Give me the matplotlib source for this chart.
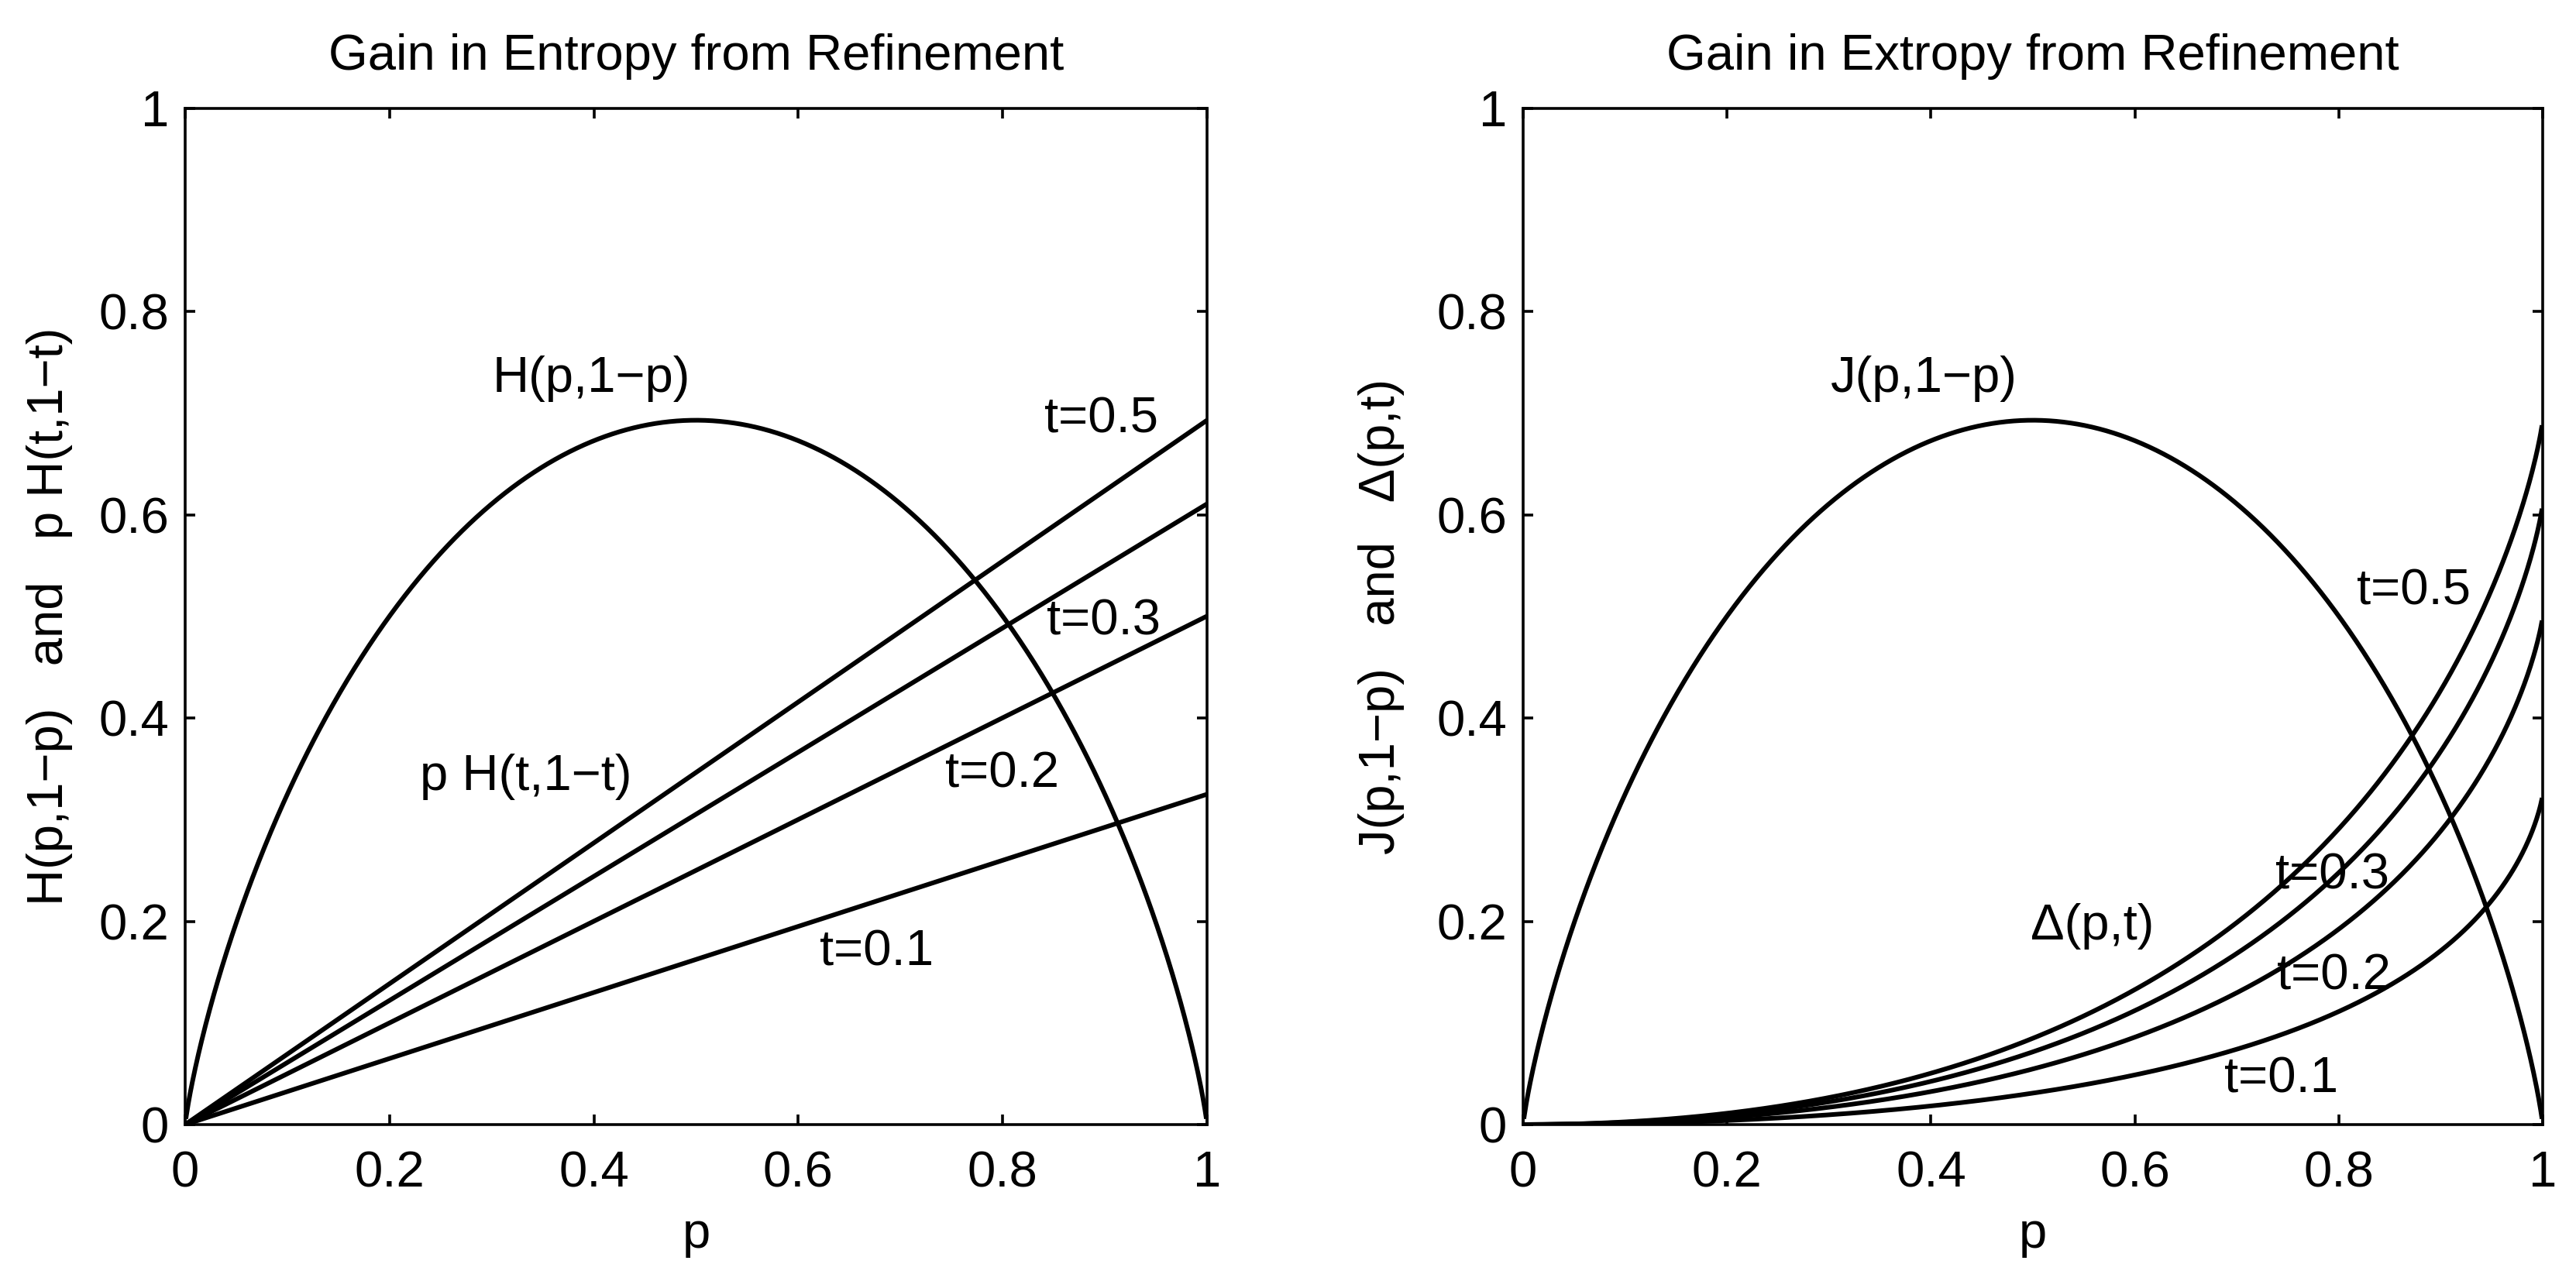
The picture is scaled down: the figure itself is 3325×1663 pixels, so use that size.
import numpy as np
import matplotlib
matplotlib.use("Agg")
import matplotlib.pyplot as plt
from matplotlib.ticker import FixedLocator, FuncFormatter

plt.rcParams['font.family'] = ['Liberation Sans', 'DejaVu Sans']

# ---- data ----
t_values = [0.1, 0.2, 0.3, 0.5]
p = np.linspace(0.001, 0.999, 999)
x_ticks = [0, 0.2, 0.4, 0.6, 0.8, 1]
y_ticks = [0, 0.2, 0.4, 0.6, 0.8, 1]

titles = ["Gain in Entropy from Refinement", "Gain in Extropy from Refinement"]
ylabels = ["H(p,1\u2212p)   and   p H(t,1\u2212t)", "J(p,1\u2212p)   and   \u0394(p,t)"]

left_labels = [("H(p,1\u2212p)", 0.301, 0.721), ("t=0.5", 0.841, 0.681),
               ("t=0.3", 0.843, 0.482), ("t=0.2", 0.744, 0.332),
               ("p H(t,1\u2212t)", 0.230, 0.329), ("t=0.1", 0.621, 0.157)]
right_labels = [("J(p,1\u2212p)", 0.302, 0.721), ("t=0.5", 0.818, 0.512),
                ("\u0394(p,t)", 0.498, 0.182), ("t=0.3", 0.738, 0.232),
                ("t=0.2", 0.739, 0.133), ("t=0.1", 0.688, 0.032)]


def xlogx(x):
    x = np.asarray(x, dtype=float)
    out = np.zeros_like(x)
    m = x > 0
    out[m] = x[m] * np.log(x[m])
    return out


def H2(q):
    return -xlogx(q) - xlogx(1 - q)


def delta_ext(pp, t):
    return -xlogx(1 - pp * t) - xlogx(1 - pp + pp * t) + xlogx(1 - pp)


FS = 47
LW = 4.3
SPW = 2.6

fig = plt.figure(figsize=(33.25, 16.63), dpi=100)
W, Hh = 3325, 1663
bottom = (Hh - 1452) / Hh
height = 1312 / Hh
ax1 = fig.add_axes([239 / W, bottom, 1319 / W, height])
ax2 = fig.add_axes([1966 / W, bottom, 1316 / W, height])

# left panel
ax1.plot(p, H2(p), color='black', lw=LW)
for t in t_values:
    ax1.plot(p, p * H2(np.array([t]))[0], color='black', lw=LW)
for s, x, y in left_labels:
    ax1.text(x, y, s, fontsize=FS, ha='left', va='baseline')

# right panel
ax2.plot(p, H2(p), color='black', lw=LW)
for t in t_values:
    ax2.plot(p, delta_ext(p, t), color='black', lw=LW)
for s, x, y in right_labels:
    ax2.text(x, y, s, fontsize=FS, ha='left', va='baseline')

fmt = FuncFormatter(lambda v, pos: ('%g' % v))
for ax, title, yl, ylx in [(ax1, titles[0], ylabels[0], -0.110),
                           (ax2, titles[1], ylabels[1], -0.116)]:
    ax.set_xlim(0, 1)
    ax.set_ylim(0, 1)
    ax.xaxis.set_major_locator(FixedLocator(x_ticks))
    ax.yaxis.set_major_locator(FixedLocator(y_ticks))
    ax.xaxis.set_major_formatter(fmt)
    ax.yaxis.set_major_formatter(fmt)
    ax.tick_params(direction='in', length=9.4, width=SPW, top=True, right=True,
                   labelsize=FS)
    ax.tick_params(axis='x', pad=24)
    ax.tick_params(axis='y', pad=15)
    for sp in ax.spines.values():
        sp.set_linewidth(SPW)
    ax.text(0.5, 1.038, title, transform=ax.transAxes, fontsize=FS,
            ha='center', va='baseline')
    ax.set_xlabel('p', fontsize=FS, va='baseline')
    ax.xaxis.set_label_coords(0.5, -0.121)
    ax.set_ylabel(yl, fontsize=FS)
    ax.yaxis.set_label_coords(ylx, 0.5)

fig.savefig('out.png', dpi=100)
